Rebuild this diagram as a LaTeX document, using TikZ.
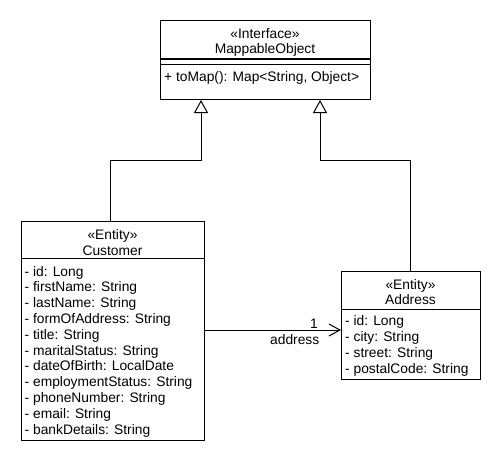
\documentclass[tikz,border=0pt]{standalone}
\usepackage{fontspec}
\setmainfont{Liberation Sans}
\usetikzlibrary{arrows.meta}
\begin{document}
\begin{tikzpicture}[x=1pt,y=-1pt,
  box/.style={draw, line width=1pt, inner sep=0pt, anchor=north west},
  txt/.style={inner sep=0pt, font=\fontsize{13.8}{16}\selectfont},
  attr/.style={txt, anchor=base west},
  ctr/.style={txt, anchor=base},
  rlbl/.style={txt, anchor=base east},
  divider/.style={line width=1pt},
  gen/.style={line width=1pt, -{Triangle[open, length=13pt, width=14pt]}},
  assoc/.style={line width=1pt, -{Straight Barb[length=11pt, width=12pt]}}]
\useasboundingbox (0,0) rectangle (500,460);
% Interface
\node[box, minimum width=210pt, minimum height=79pt] (iface) at (160,20) {};
\node[ctr] (ifst) at (265,38.5) {«Interface»};
\node[ctr] (ifname) at (265,53.5) {MappableObject};
\draw[divider] (160,59) -- (370,59) (160,64) -- (370,64);
\node[attr] (ifm) at (164,81.5) {+ toMap(): Map<String, Object>};
% Customer
\node[box, minimum width=183pt, minimum height=219pt] (cust) at (21,221) {};
\node[ctr] (custst) at (112.5,239.5) {«Entity»};
\node[ctr] (custnm) at (112.5,255) {Customer};
\draw[divider] (21,258) -- (204,258);
\foreach [count=\i from 0] \t in {- id: Long, - firstName: String, - lastName: String, - formOfAddress: String, - title: String, - maritalStatus: String, - dateOfBirth: LocalDate, - employmentStatus: String, - phoneNumber: String, - email: String, - bankDetails: String}
  \node[attr] (cust-a\i) at (24.5,276+15.8*\i) {\t};
% Address
\node[box, minimum width=139pt, minimum height=108pt] (addr) at (341,271) {};
\node[ctr] (addrst) at (410.5,289) {«Entity»};
\node[ctr] (addrnm) at (410.5,304) {Address};
\draw[divider] (341,309) -- (480,309);
\foreach [count=\i from 0] \t in {- id: Long, - city: String, - street: String, - postalCode: String}
  \node[attr] (addr-a\i) at (345,325.7+15.9*\i) {\t};
% Generalizations
\coordinate (c1) at (110,160);
\coordinate (c2) at (201,160);
\draw[gen] (cust.north -| c1) -- (c1) -- (c2) -- (iface.south -| c2);
\coordinate (a1) at (410,160);
\coordinate (a2) at (320,160);
\draw[gen] (addr.north -| a1) -- (a1) -- (a2) -- (iface.south -| a2);
% Association
\coordinate (asy) at (0,330);
\draw[assoc] (cust.east |- asy) -- (addr.west |- asy);
\node[rlbl] (mult) at (318,328) {1};
\node[rlbl] (role) at (319.5,344) {address};
\end{tikzpicture}
\end{document}
